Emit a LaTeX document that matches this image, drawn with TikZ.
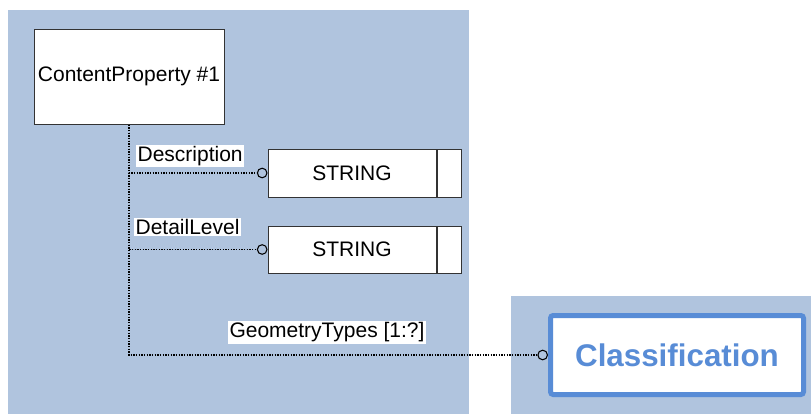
\documentclass[tikz,border=0pt]{standalone}
\usepackage{fontspec}
\setmainfont{Liberation Sans}
\usetikzlibrary{arrows.meta,positioning,calc}
\definecolor{panelblue}{RGB}{176,196,222}
\definecolor{clsblue}{RGB}{88,140,214}

\begin{document}
\begin{tikzpicture}[x=0.75pt, y=-0.75pt,
  entity/.style={draw=black!80, line width=0.75pt, fill=white, inner sep=0pt, font=\fontsize{15.75}{18}\selectfont},
  link/.style={draw=black, line width=0.8pt, dash pattern=on 1pt off 1pt, -{Circle[open, length=8pt, line width=0.8pt]}},
  lbl/.style={fill=white, inner sep=1pt, font=\fontsize{15.75}{18}\selectfont}]
\useasboundingbox (0,0) rectangle (811,414);
\fill[panelblue] (8,10) rectangle (469,414);
\fill[panelblue] (511,296) rectangle (811,414);
\node[entity, minimum width=142.5pt, minimum height=71.25pt] (cp) at (129,76.5) {ContentProperty \#1};
\node[entity, minimum width=126pt, minimum height=36pt] (s1) at (352,173) {STRING};
\node[entity, minimum width=18pt, minimum height=36pt, right=0pt of s1] (s1e) {};
\node[entity, minimum width=126pt, minimum height=35.25pt] (s2) at (352,249.5) {STRING};
\node[entity, minimum width=18pt, minimum height=35.25pt, right=0pt of s2] (s2e) {};
\node[draw=clsblue, line width=3.75pt, rounded corners=2pt, fill=white, text=clsblue,
  minimum width=189.75pt, minimum height=59.25pt,
  font=\bfseries\fontsize{23.5}{28}\selectfont] (cls) at (677,355) {Classification};
\draw[link] (cp.south) |- (s1.west);
\draw[link] (cp.south) |- (s2.west);
\draw[link] (cp.south) |- (cls.west);
\node[lbl, anchor=west] (ldesc) at (136,156) {Description};
\node[lbl, anchor=west] (ldet) at (134,227) {DetailLevel};
\node[lbl] (lgeo) at (327,332.5) {GeometryTypes [1:?]};
\end{tikzpicture}
\end{document}
